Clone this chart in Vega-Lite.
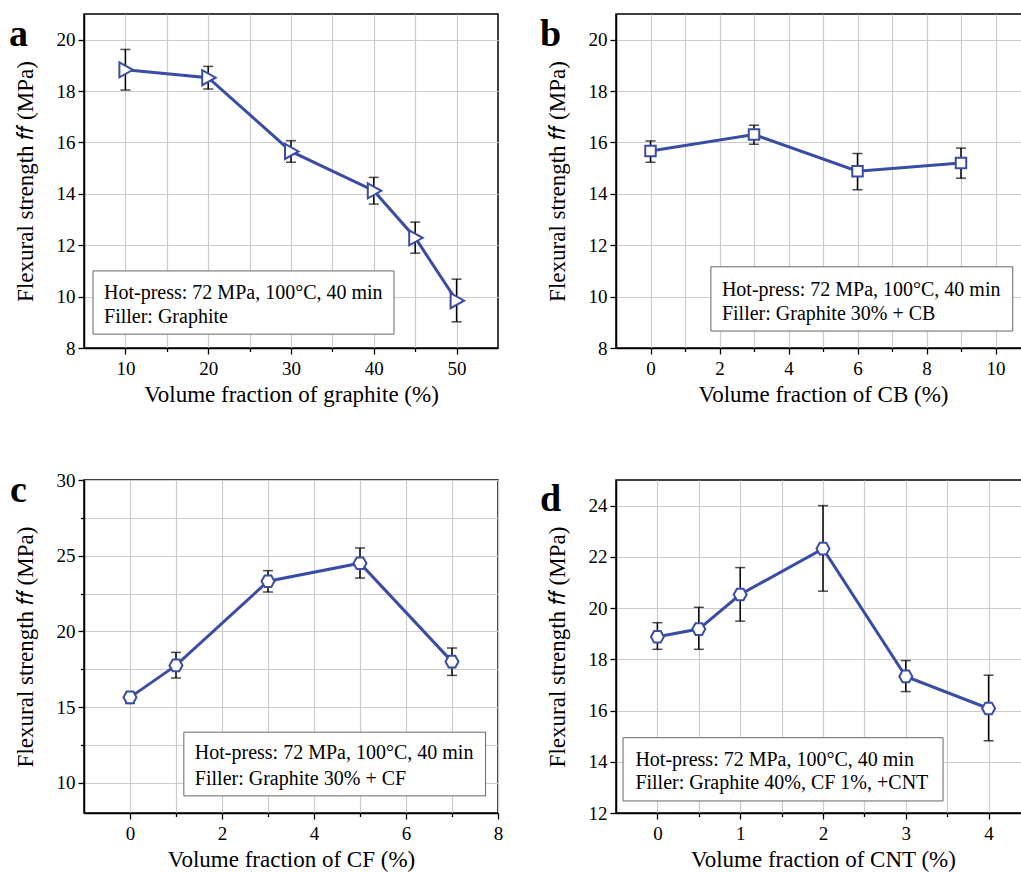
{
  "$schema": "https://vega.github.io/schema/vega-lite/v6.json",
  "background": "white",
  "padding": {"left": 8, "top": 13, "right": 0, "bottom": 0},
  "bounds": "flush",
  "columns": 2,
  "spacing": {"row": 132, "column": 118},
  "datasets": {
    "pa": [
      {"x": 10, "y": 18.83, "lo": 18.04, "hi": 19.62},
      {"x": 20, "y": 18.52, "lo": 18.08, "hi": 18.96},
      {"x": 30, "y": 15.65, "lo": 15.23, "hi": 16.07},
      {"x": 40, "y": 14.12, "lo": 13.60, "hi": 14.64},
      {"x": 45, "y": 12.29, "lo": 11.69, "hi": 12.90},
      {"x": 50, "y": 9.84, "lo": 9.02, "hi": 10.68}
    ],
    "pb": [
      {"x": 0, "y": 15.67, "lo": 15.23, "hi": 16.06},
      {"x": 3, "y": 16.31, "lo": 15.93, "hi": 16.67},
      {"x": 6, "y": 14.88, "lo": 14.16, "hi": 15.57},
      {"x": 9, "y": 15.20, "lo": 14.61, "hi": 15.78}
    ],
    "pc": [
      {"x": 0, "y": 15.64, "lo": 15.24, "hi": 15.97},
      {"x": 1, "y": 17.75, "lo": 16.92, "hi": 18.61},
      {"x": 3, "y": 23.31, "lo": 22.60, "hi": 24.01},
      {"x": 5, "y": 24.50, "lo": 23.52, "hi": 25.51},
      {"x": 7, "y": 18.00, "lo": 17.09, "hi": 18.90}
    ],
    "pd": [
      {"x": 0, "y": 18.88, "lo": 18.39, "hi": 19.43},
      {"x": 0.5, "y": 19.18, "lo": 18.39, "hi": 20.03},
      {"x": 1, "y": 20.53, "lo": 19.49, "hi": 21.58},
      {"x": 2, "y": 22.32, "lo": 20.66, "hi": 24.00},
      {"x": 3, "y": 17.33, "lo": 16.74, "hi": 17.95},
      {"x": 4, "y": 16.08, "lo": 14.82, "hi": 17.38}
    ],
    "na": [{"line1": "Hot-press: 72 MPa, 100°C, 40 min", "line2": "Filler: Graphite"}],
    "nb": [{"line1": "Hot-press: 72 MPa, 100°C, 40 min", "line2": "Filler: Graphite 30% + CB"}],
    "nc": [{"line1": "Hot-press: 72 MPa, 100°C, 40 min", "line2": "Filler: Graphite 30% + CF"}],
    "nd": [{"line1": "Hot-press: 72 MPa, 100°C, 40 min", "line2": "Filler: Graphite 40%, CF 1%, +CNT"}]
  },
  "concat": [
    {
      "width": 414, "height": 334,
      "title": {"text": "a", "anchor": "start", "frame": "group", "orient": "top", "offset": 0, "baseline": "alphabetic", "dx": -75, "dy": 70, "font": "Liberation Serif", "fontSize": 38, "fontWeight": "bold", "color": "black"},
      "data": {"name": "pa"},
      "layer": [
        {"mark": {"type": "rule", "color": "black", "strokeWidth": 1.5},
         "encoding": {
           "x": {"field": "x", "type": "quantitative", "scale": {"domain": [5, 55], "nice": false, "zero": false},
                 "axis": {"title": "Volume fraction of graphite (%)", "format": "~g", "values": [10, 15, 20, 25, 30, 35, 40, 45, 50], "labelExpr": "datum.value % 10 == 0 ? datum.label : ''", "tickSize": {"condition": {"test": "datum.value % 10 == 0", "value": 6}, "value": 3.5},
                          "labelFont": "Liberation Serif", "labelFontSize": 19, "labelColor": "black", "labelPadding": 5, "labelFlush": false, "labelOverlap": false, "titleFont": "Liberation Serif", "titleFontSize": 23, "titleFontWeight": "normal", "titleColor": "black", "titlePadding": 5, "domainColor": "black", "domainWidth": 1.5, "tickColor": "black", "tickWidth": 1.3, "gridColor": "#cccccc", "gridWidth": 1.2}},
           "y": {"field": "lo", "type": "quantitative", "title": "Flexural strength 𝑓𝑓 (MPa)", "scale": {"domain": [8, 21], "nice": false, "zero": false},
                 "axis": {"format": "~g", "values": [8, 9, 10, 11, 12, 13, 14, 15, 16, 17, 18, 19, 20], "labelExpr": "datum.value % 2 == 0 ? datum.label : ''", "tickSize": {"condition": {"test": "datum.value % 2 == 0", "value": 6}, "value": 3.5},
                          "labelFont": "Liberation Serif", "labelFontSize": 19, "labelColor": "black", "labelPadding": 3, "labelFlush": false, "labelOverlap": false, "titleFont": "Liberation Serif", "titleFontSize": 23, "titleFontWeight": "normal", "titleColor": "black", "titlePadding": 19, "domainColor": "black", "domainWidth": 1.5, "tickColor": "black", "tickWidth": 1.3, "gridColor": "#cccccc", "gridWidth": 1.2}},
           "y2": {"field": "hi"}}},
        {"mark": {"type": "tick", "orient": "horizontal", "color": "black", "size": 10, "thickness": 1.5},
         "encoding": {"x": {"field": "x", "type": "quantitative"}, "y": {"field": "lo", "type": "quantitative", "title": "Flexural strength 𝑓𝑓 (MPa)"}}},
        {"mark": {"type": "tick", "orient": "horizontal", "color": "black", "size": 10, "thickness": 1.5},
         "encoding": {"x": {"field": "x", "type": "quantitative"}, "y": {"field": "hi", "type": "quantitative", "title": "Flexural strength 𝑓𝑓 (MPa)"}}},
        {"mark": {"type": "line", "color": "#3a4da5", "strokeWidth": 3},
         "encoding": {"x": {"field": "x", "type": "quantitative"}, "y": {"field": "y", "type": "quantitative", "title": "Flexural strength 𝑓𝑓 (MPa)"}}},
        {"mark": {"type": "point", "shape": "M-0.8,-1L1,0L-0.8,1Z", "size": 225, "filled": true, "fill": "white", "stroke": "#3a4da5", "strokeWidth": 2, "opacity": 1},
         "encoding": {"x": {"field": "x", "type": "quantitative"}, "y": {"field": "y", "type": "quantitative", "title": "Flexural strength 𝑓𝑓 (MPa)"}}},
        {"data": {"name": "na"},
         "mark": {"type": "rect", "fill": "white", "stroke": "#666666", "strokeWidth": 1},
         "encoding": {"x": {"datum": 6.09}, "x2": {"datum": 42.44}, "y": {"datum": 11.0}, "y2": {"datum": 8.54}}},
        {"data": {"name": "na"},
         "mark": {"type": "text", "align": "left", "baseline": "middle", "font": "Liberation Serif", "fontSize": 20, "color": "black"},
         "encoding": {"x": {"datum": 7.42}, "y": {"datum": 10.14}, "text": {"field": "line1"}}},
        {"data": {"name": "na"},
         "mark": {"type": "text", "align": "left", "baseline": "middle", "font": "Liberation Serif", "fontSize": 20, "color": "black"},
         "encoding": {"x": {"datum": 7.42}, "y": {"datum": 9.21}, "text": {"field": "line2"}}}
      ]
    },
    {
      "width": 414, "height": 334,
      "title": {"text": "b", "anchor": "start", "frame": "group", "orient": "top", "offset": 0, "baseline": "alphabetic", "dx": -76, "dy": 70, "font": "Liberation Serif", "fontSize": 38, "fontWeight": "bold", "color": "black"},
      "data": {"name": "pb"},
      "layer": [
        {"mark": {"type": "rule", "color": "black", "strokeWidth": 1.5},
         "encoding": {
           "x": {"field": "x", "type": "quantitative", "scale": {"domain": [-1, 11], "nice": false, "zero": false},
                 "axis": {"title": "Volume fraction of CB (%)", "format": "~g", "values": [0, 1, 2, 3, 4, 5, 6, 7, 8, 9, 10], "labelExpr": "datum.value % 2 == 0 ? datum.label : ''", "tickSize": {"condition": {"test": "datum.value % 2 == 0", "value": 6}, "value": 3.5},
                          "labelFont": "Liberation Serif", "labelFontSize": 19, "labelColor": "black", "labelPadding": 5, "labelFlush": false, "labelOverlap": false, "titleFont": "Liberation Serif", "titleFontSize": 23, "titleFontWeight": "normal", "titleColor": "black", "titlePadding": 5, "domainColor": "black", "domainWidth": 1.5, "tickColor": "black", "tickWidth": 1.3, "gridColor": "#cccccc", "gridWidth": 1.2}},
           "y": {"field": "lo", "type": "quantitative", "title": "Flexural strength 𝑓𝑓 (MPa)", "scale": {"domain": [8, 21], "nice": false, "zero": false},
                 "axis": {"format": "~g", "values": [8, 9, 10, 11, 12, 13, 14, 15, 16, 17, 18, 19, 20], "labelExpr": "datum.value % 2 == 0 ? datum.label : ''", "tickSize": {"condition": {"test": "datum.value % 2 == 0", "value": 6}, "value": 3.5},
                          "labelFont": "Liberation Serif", "labelFontSize": 19, "labelColor": "black", "labelPadding": 3, "labelFlush": false, "labelOverlap": false, "titleFont": "Liberation Serif", "titleFontSize": 23, "titleFontWeight": "normal", "titleColor": "black", "titlePadding": 19, "domainColor": "black", "domainWidth": 1.5, "tickColor": "black", "tickWidth": 1.3, "gridColor": "#cccccc", "gridWidth": 1.2}},
           "y2": {"field": "hi"}}},
        {"mark": {"type": "tick", "orient": "horizontal", "color": "black", "size": 10, "thickness": 1.5},
         "encoding": {"x": {"field": "x", "type": "quantitative"}, "y": {"field": "lo", "type": "quantitative", "title": "Flexural strength 𝑓𝑓 (MPa)"}}},
        {"mark": {"type": "tick", "orient": "horizontal", "color": "black", "size": 10, "thickness": 1.5},
         "encoding": {"x": {"field": "x", "type": "quantitative"}, "y": {"field": "hi", "type": "quantitative", "title": "Flexural strength 𝑓𝑓 (MPa)"}}},
        {"mark": {"type": "line", "color": "#3a4da5", "strokeWidth": 3},
         "encoding": {"x": {"field": "x", "type": "quantitative"}, "y": {"field": "y", "type": "quantitative", "title": "Flexural strength 𝑓𝑓 (MPa)"}}},
        {"mark": {"type": "point", "shape": "square", "size": 110, "filled": true, "fill": "white", "stroke": "#3a4da5", "strokeWidth": 2, "opacity": 1},
         "encoding": {"x": {"field": "x", "type": "quantitative"}, "y": {"field": "y", "type": "quantitative", "title": "Flexural strength 𝑓𝑓 (MPa)"}}},
        {"data": {"name": "nb"},
         "mark": {"type": "rect", "fill": "white", "stroke": "#666666", "strokeWidth": 1},
         "encoding": {"x": {"datum": 1.75}, "x2": {"datum": 10.5}, "y": {"datum": 11.16}, "y2": {"datum": 8.66}}},
        {"data": {"name": "nb"},
         "mark": {"type": "text", "align": "left", "baseline": "middle", "font": "Liberation Serif", "fontSize": 20, "color": "black"},
         "encoding": {"x": {"datum": 2.07}, "y": {"datum": 10.26}, "text": {"field": "line1"}}},
        {"data": {"name": "nb"},
         "mark": {"type": "text", "align": "left", "baseline": "middle", "font": "Liberation Serif", "fontSize": 20, "color": "black"},
         "encoding": {"x": {"datum": 2.07}, "y": {"datum": 9.32}, "text": {"field": "line2"}}}
      ]
    },
    {
      "width": 414, "height": 333,
      "title": {"text": "c", "anchor": "start", "frame": "group", "orient": "top", "offset": 0, "baseline": "alphabetic", "dx": -74, "dy": 69, "font": "Liberation Serif", "fontSize": 38, "fontWeight": "bold", "color": "black"},
      "data": {"name": "pc"},
      "layer": [
        {"mark": {"type": "rule", "color": "black", "strokeWidth": 1.5},
         "encoding": {
           "x": {"field": "x", "type": "quantitative", "scale": {"domain": [-1, 8], "nice": false, "zero": false},
                 "axis": {"title": "Volume fraction of CF (%)", "format": "~g", "values": [0, 1, 2, 3, 4, 5, 6, 7, 8], "labelExpr": "datum.value % 2 == 0 ? datum.label : ''", "tickSize": {"condition": {"test": "datum.value % 2 == 0", "value": 6}, "value": 3.5},
                          "labelFont": "Liberation Serif", "labelFontSize": 19, "labelColor": "black", "labelPadding": 5, "labelFlush": false, "labelOverlap": false, "titleFont": "Liberation Serif", "titleFontSize": 23, "titleFontWeight": "normal", "titleColor": "black", "titlePadding": 5, "domainColor": "black", "domainWidth": 1.5, "tickColor": "black", "tickWidth": 1.3, "gridColor": "#cccccc", "gridWidth": 1.2}},
           "y": {"field": "lo", "type": "quantitative", "title": "Flexural strength 𝑓𝑓 (MPa)", "scale": {"domain": [8, 30], "nice": false, "zero": false},
                 "axis": {"format": "~g", "values": [10, 12.5, 15, 17.5, 20, 22.5, 25, 27.5, 30], "labelExpr": "datum.value % 5 == 0 ? datum.label : ''", "tickSize": {"condition": {"test": "datum.value % 5 == 0", "value": 6}, "value": 3.5},
                          "labelFont": "Liberation Serif", "labelFontSize": 19, "labelColor": "black", "labelPadding": 3, "labelFlush": false, "labelOverlap": false, "titleFont": "Liberation Serif", "titleFontSize": 23, "titleFontWeight": "normal", "titleColor": "black", "titlePadding": 19, "domainColor": "black", "domainWidth": 1.5, "tickColor": "black", "tickWidth": 1.3, "gridColor": "#cccccc", "gridWidth": 1.2}},
           "y2": {"field": "hi"}}},
        {"mark": {"type": "tick", "orient": "horizontal", "color": "black", "size": 10, "thickness": 1.5},
         "encoding": {"x": {"field": "x", "type": "quantitative"}, "y": {"field": "lo", "type": "quantitative", "title": "Flexural strength 𝑓𝑓 (MPa)"}}},
        {"mark": {"type": "tick", "orient": "horizontal", "color": "black", "size": 10, "thickness": 1.5},
         "encoding": {"x": {"field": "x", "type": "quantitative"}, "y": {"field": "hi", "type": "quantitative", "title": "Flexural strength 𝑓𝑓 (MPa)"}}},
        {"mark": {"type": "line", "color": "#3a4da5", "strokeWidth": 3},
         "encoding": {"x": {"field": "x", "type": "quantitative"}, "y": {"field": "y", "type": "quantitative", "title": "Flexural strength 𝑓𝑓 (MPa)"}}},
        {"mark": {"type": "point", "shape": "M-1,0L-0.5,-0.9L0.5,-0.9L1,0L0.5,0.9L-0.5,0.9Z", "size": 169, "filled": true, "fill": "white", "stroke": "#3a4da5", "strokeWidth": 2, "opacity": 1},
         "encoding": {"x": {"field": "x", "type": "quantitative"}, "y": {"field": "y", "type": "quantitative", "title": "Flexural strength 𝑓𝑓 (MPa)"}}},
        {"data": {"name": "nc"},
         "mark": {"type": "rect", "fill": "white", "stroke": "#666666", "strokeWidth": 1},
         "encoding": {"x": {"datum": 1.17}, "x2": {"datum": 7.73}, "y": {"datum": 13.34}, "y2": {"datum": 9.13}}},
        {"data": {"name": "nc"},
         "mark": {"type": "text", "align": "left", "baseline": "middle", "font": "Liberation Serif", "fontSize": 20, "color": "black"},
         "encoding": {"x": {"datum": 1.41}, "y": {"datum": 11.95}, "text": {"field": "line1"}}},
        {"data": {"name": "nc"},
         "mark": {"type": "text", "align": "left", "baseline": "middle", "font": "Liberation Serif", "fontSize": 20, "color": "black"},
         "encoding": {"x": {"datum": 1.41}, "y": {"datum": 10.23}, "text": {"field": "line2"}}}
      ]
    },
    {
      "width": 414, "height": 333,
      "title": {"text": "d", "anchor": "start", "frame": "group", "orient": "top", "offset": 0, "baseline": "alphabetic", "dx": -76, "dy": 69, "font": "Liberation Serif", "fontSize": 38, "fontWeight": "bold", "color": "black"},
      "data": {"name": "pd"},
      "layer": [
        {"mark": {"type": "rule", "color": "black", "strokeWidth": 1.5},
         "encoding": {
           "x": {"field": "x", "type": "quantitative", "scale": {"domain": [-0.5, 4.5], "nice": false, "zero": false},
                 "axis": {"title": "Volume fraction of CNT (%)", "format": "~g", "values": [0, 0.5, 1, 1.5, 2, 2.5, 3, 3.5, 4], "labelExpr": "datum.value % 1 == 0 ? datum.label : ''", "tickSize": {"condition": {"test": "datum.value % 1 == 0", "value": 6}, "value": 3.5},
                          "labelFont": "Liberation Serif", "labelFontSize": 19, "labelColor": "black", "labelPadding": 5, "labelFlush": false, "labelOverlap": false, "titleFont": "Liberation Serif", "titleFontSize": 23, "titleFontWeight": "normal", "titleColor": "black", "titlePadding": 5, "domainColor": "black", "domainWidth": 1.5, "tickColor": "black", "tickWidth": 1.3, "gridColor": "#cccccc", "gridWidth": 1.2}},
           "y": {"field": "lo", "type": "quantitative", "title": "Flexural strength 𝑓𝑓 (MPa)", "scale": {"domain": [12, 25], "nice": false, "zero": false},
                 "axis": {"format": "~g", "values": [12, 13, 14, 15, 16, 17, 18, 19, 20, 21, 22, 23, 24], "labelExpr": "datum.value % 2 == 0 ? datum.label : ''", "tickSize": {"condition": {"test": "datum.value % 2 == 0", "value": 6}, "value": 3.5},
                          "labelFont": "Liberation Serif", "labelFontSize": 19, "labelColor": "black", "labelPadding": 3, "labelFlush": false, "labelOverlap": false, "titleFont": "Liberation Serif", "titleFontSize": 23, "titleFontWeight": "normal", "titleColor": "black", "titlePadding": 19, "domainColor": "black", "domainWidth": 1.5, "tickColor": "black", "tickWidth": 1.3, "gridColor": "#cccccc", "gridWidth": 1.2}},
           "y2": {"field": "hi"}}},
        {"mark": {"type": "tick", "orient": "horizontal", "color": "black", "size": 10, "thickness": 1.5},
         "encoding": {"x": {"field": "x", "type": "quantitative"}, "y": {"field": "lo", "type": "quantitative", "title": "Flexural strength 𝑓𝑓 (MPa)"}}},
        {"mark": {"type": "tick", "orient": "horizontal", "color": "black", "size": 10, "thickness": 1.5},
         "encoding": {"x": {"field": "x", "type": "quantitative"}, "y": {"field": "hi", "type": "quantitative", "title": "Flexural strength 𝑓𝑓 (MPa)"}}},
        {"mark": {"type": "line", "color": "#3a4da5", "strokeWidth": 3},
         "encoding": {"x": {"field": "x", "type": "quantitative"}, "y": {"field": "y", "type": "quantitative", "title": "Flexural strength 𝑓𝑓 (MPa)"}}},
        {"mark": {"type": "point", "shape": "M-1,0L-0.5,-0.9L0.5,-0.9L1,0L0.5,0.9L-0.5,0.9Z", "size": 169, "filled": true, "fill": "white", "stroke": "#3a4da5", "strokeWidth": 2, "opacity": 1},
         "encoding": {"x": {"field": "x", "type": "quantitative"}, "y": {"field": "y", "type": "quantitative", "title": "Flexural strength 𝑓𝑓 (MPa)"}}},
        {"data": {"name": "nd"},
         "mark": {"type": "rect", "fill": "white", "stroke": "#666666", "strokeWidth": 1},
         "encoding": {"x": {"datum": -0.415}, "x2": {"datum": 3.45}, "y": {"datum": 14.94}, "y2": {"datum": 12.47}}},
        {"data": {"name": "nd"},
         "mark": {"type": "text", "align": "left", "baseline": "middle", "font": "Liberation Serif", "fontSize": 20, "color": "black"},
         "encoding": {"x": {"datum": -0.266}, "y": {"datum": 14.07}, "text": {"field": "line1"}}},
        {"data": {"name": "nd"},
         "mark": {"type": "text", "align": "left", "baseline": "middle", "font": "Liberation Serif", "fontSize": 20, "color": "black"},
         "encoding": {"x": {"datum": -0.266}, "y": {"datum": 13.16}, "text": {"field": "line2"}}}
      ]
    }
  ],
  "config": {
    "font": "Liberation Serif",
    "view": {"stroke": "black", "strokeWidth": 1.5}
  }
}
